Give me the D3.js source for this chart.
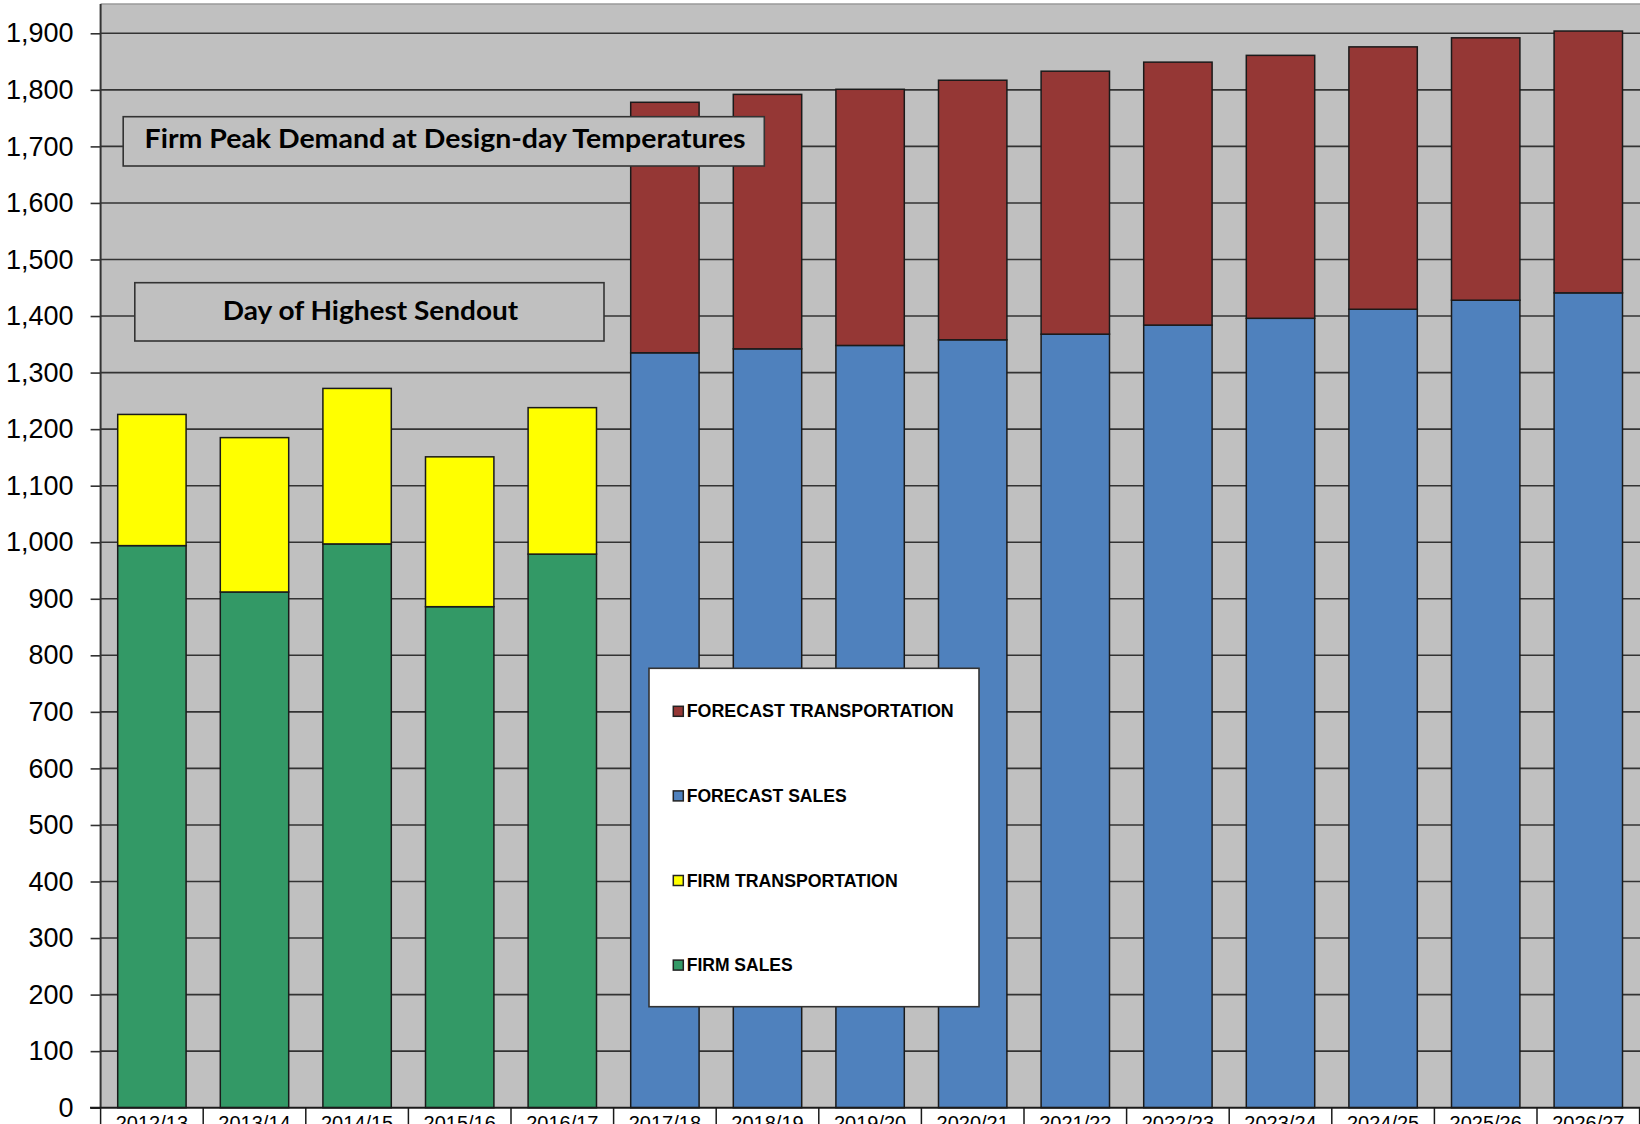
<!DOCTYPE html>
<html>
<head>
<meta charset="utf-8">
<script src="https://cdn.jsdelivr.net/npm/d3@7/dist/d3.min.js"></script>
<style>
  html, body { margin: 0; padding: 0; background: #ffffff; }
  svg { display: block; }
</style>
</head>
<body>
<script>
// Winter seasons: five actual years, then ten forecast years
const historyYears = ["2012/13", "2013/14", "2014/15", "2015/16", "2016/17"];
const forecastYears = ["2017/18", "2018/19", "2019/20", "2020/21", "2021/22",
                       "2022/23", "2023/24", "2024/25", "2025/26", "2026/27"];

// Day of highest sendout (actual)
const firmSales = [994, 912, 997, 886, 979];
const firmTransportation = [232, 273, 275, 265, 259];

// Design-day forecast
const forecastSales = [1335, 1342, 1348, 1358, 1368, 1384, 1396, 1412, 1428, 1441];
const forecastTransportation = [443, 450, 453, 459, 465, 465, 465, 464, 464, 463];

const yTicks = d3.range(0, 2000, 100);

const seriesKeys = ["firmSales", "forecastSales", "firmTransportation", "forecastTransportation"];
const seriesColor = {
  firmSales: "#339966",
  firmTransportation: "#ffff00",
  forecastSales: "#4f81bd",
  forecastTransportation: "#953735"
};
const legendItems = [
  { key: "forecastTransportation", label: "FORECAST TRANSPORTATION", len: 267 },
  { key: "forecastSales", label: "FORECAST SALES", len: 160 },
  { key: "firmTransportation", label: "FIRM TRANSPORTATION", len: 211 },
  { key: "firmSales", label: "FIRM SALES", len: 106 }
];

// One row per season; the series that does not apply to a season is zero
const rows = [
  ...historyYears.map((year, i) => ({
    year,
    firmSales: firmSales[i],
    firmTransportation: firmTransportation[i],
    forecastSales: 0,
    forecastTransportation: 0
  })),
  ...forecastYears.map((year, i) => ({
    year,
    firmSales: 0,
    firmTransportation: 0,
    forecastSales: forecastSales[i],
    forecastTransportation: forecastTransportation[i]
  }))
];
const categories = rows.map(r => r.year);

const W = 1640, H = 1124;
const plotLeft = 100.6, plotRight = 1639.6, plotTop = 4, plotBottom = 1107.7;

const svg = d3.select("body").append("svg")
  .attr("width", W).attr("height", H)
  .attr("viewBox", `0 0 ${W} ${H}`);

const x = d3.scaleBand()
  .domain(categories)
  .range([plotLeft, plotRight])
  .paddingInner(1 / 3)
  .paddingOuter(1 / 6);

const y = d3.scaleLinear()
  .domain([0, 1900])
  .range([plotBottom, 33.3]);

// Plot area background
svg.append("rect")
  .attr("x", plotLeft).attr("y", plotTop)
  .attr("width", W - plotLeft).attr("height", plotBottom - plotTop)
  .attr("fill", "#c0c0c0");
svg.append("line")
  .attr("x1", plotLeft).attr("x2", W)
  .attr("y1", plotTop).attr("y2", plotTop)
  .attr("stroke", "#9a9a9a").attr("stroke-width", 1.5);

// Horizontal gridlines
svg.append("g")
  .selectAll("line")
  .data(yTicks.filter(t => t > 0))
  .join("line")
  .attr("x1", plotLeft).attr("x2", W)
  .attr("y1", d => y(d)).attr("y2", d => y(d))
  .attr("stroke", "#333333").attr("stroke-width", 1.6);

// Stacked bars
const stacked = d3.stack().keys(seriesKeys)(rows);
svg.append("g")
  .selectAll("g")
  .data(stacked)
  .join("g")
  .attr("fill", d => seriesColor[d.key])
  .selectAll("rect")
  .data(d => d.filter(seg => seg[1] - seg[0] > 0))
  .join("rect")
  .attr("x", d => x(d.data.year))
  .attr("width", x.bandwidth())
  .attr("y", d => y(d[1]))
  .attr("height", d => y(d[0]) - y(d[1]))
  .attr("stroke", "#1a1a1a")
  .attr("stroke-width", 1.5);

// Value axis
const yAxis = svg.append("g")
  .attr("transform", `translate(${plotLeft},0)`)
  .call(d3.axisLeft(y).tickValues(yTicks).tickFormat(d3.format(",")).tickSize(10).tickPadding(17));
yAxis.select(".domain").remove();
yAxis.selectAll(".tick line").attr("stroke", "#333333").attr("stroke-width", 1.6);
yAxis.selectAll(".tick text")
  .attr("font-family", "'Liberation Sans', Arial, sans-serif")
  .attr("font-size", 27)
  .attr("fill", "#000000");
svg.append("line")
  .attr("x1", plotLeft).attr("x2", plotLeft)
  .attr("y1", plotTop).attr("y2", plotBottom)
  .attr("stroke", "#333333").attr("stroke-width", 2);

// Category axis: baseline, separators between seasons and labels
svg.append("line")
  .attr("x1", 90).attr("x2", W)
  .attr("y1", plotBottom).attr("y2", plotBottom)
  .attr("stroke", "#1a1a1a").attr("stroke-width", 2);
const half = (x.step() - x.bandwidth()) / 2;
const boundaries = categories.map(c => x(c) - half).concat([x(categories[categories.length - 1]) + x.bandwidth() + half]);
svg.append("g")
  .selectAll("line")
  .data(boundaries)
  .join("line")
  .attr("x1", d => d).attr("x2", d => d)
  .attr("y1", plotBottom).attr("y2", H)
  .attr("stroke", "#1a1a1a").attr("stroke-width", 1.5);
svg.append("g")
  .selectAll("text")
  .data(categories)
  .join("text")
  .attr("x", d => x(d) + x.bandwidth() / 2)
  .attr("y", 1129.5)
  .attr("text-anchor", "middle")
  .attr("font-family", "'Liberation Sans', Arial, sans-serif")
  .attr("font-size", 20)
  .attr("fill", "#000000")
  .text(d => d);

// Annotation boxes
const notes = [
  { text: "Firm Peak Demand at Design-day Temperatures", x0: 123.2, x1: 764.3, y0: 116.7, y1: 166, tx: 144.6, len: 601, base: 148.3 },
  { text: "Day of Highest Sendout", x0: 134.8, x1: 604, y0: 282.7, y1: 341, tx: 222.8, len: 295.5, base: 320 }
];
const noteG = svg.append("g").selectAll("g").data(notes).join("g");
noteG.append("rect")
  .attr("x", d => d.x0).attr("y", d => d.y0)
  .attr("width", d => d.x1 - d.x0).attr("height", d => d.y1 - d.y0)
  .attr("fill", "#c0c0c0").attr("stroke", "#333333").attr("stroke-width", 1.6);
noteG.append("text")
  .attr("x", d => d.tx).attr("y", d => d.base)
  .attr("textLength", d => d.len).attr("lengthAdjust", "spacingAndGlyphs")
  .attr("font-family", "Lato, 'Open Sans', sans-serif")
  .attr("font-weight", 700)
  .attr("font-size", 26.5)
  .attr("fill", "#000000")
  .text(d => d.text);

// Legend
const legend = svg.append("g");
legend.append("rect")
  .attr("x", 649).attr("y", 668.3)
  .attr("width", 330).attr("height", 338.4)
  .attr("fill", "#ffffff").attr("stroke", "#333333").attr("stroke-width", 1.6);
const li = legend.selectAll("g.item")
  .data(legendItems)
  .join("g")
  .attr("class", "item")
  .attr("transform", (d, i) => `translate(0,${717.3 + i * 84.6})`);
li.append("rect")
  .attr("x", 673.3).attr("y", -11)
  .attr("width", 10).attr("height", 10)
  .attr("fill", d => seriesColor[d.key])
  .attr("stroke", "#222222").attr("stroke-width", 1.5);
li.append("text")
  .attr("x", 686.7).attr("y", 0)
  .attr("textLength", d => d.len).attr("lengthAdjust", "spacingAndGlyphs")
  .attr("font-family", "'Liberation Sans', Arial, sans-serif")
  .attr("font-weight", 700)
  .attr("font-size", 18)
  .attr("fill", "#000000")
  .text(d => d.label);
</script>
</body>
</html>
